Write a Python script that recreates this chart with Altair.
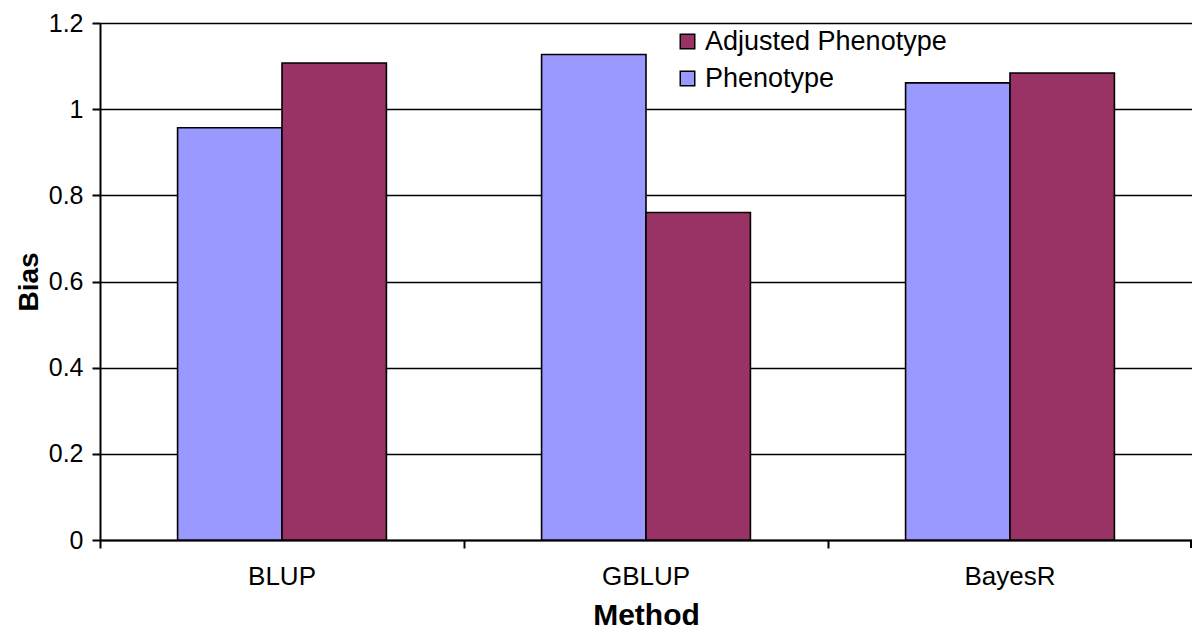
import altair as alt
import pandas as pd

methods = ["BLUP", "GBLUP", "BayesR"]
series = ["Phenotype", "Adjusted Phenotype"]
phenotype = [0.957, 1.127, 1.061]
adjusted = [1.107, 0.760, 1.084]
y_ticks = [0, 0.2, 0.4, 0.6, 0.8, 1.0, 1.2]

rows = []
for m, p, a in zip(methods, phenotype, adjusted):
    rows.append({"Method": m, "Series": "Phenotype", "Bias": p})
    rows.append({"Method": m, "Series": "Adjusted Phenotype", "Bias": a})
df = pd.DataFrame(rows)

FONT = "Liberation Sans"
W, H = 1092, 517

bars = alt.Chart(df).mark_bar(stroke="black", strokeWidth=1.6).encode(
    x=alt.X("Method:N", sort=methods,
            scale=alt.Scale(paddingInner=0, paddingOuter=0),
            axis=alt.Axis(title="Method", labelAngle=0, bandPosition=0,
                          tickSize=8, tickColor="black", tickWidth=2,
                          domainColor="black", domainWidth=2,
                          labelFont=FONT, labelFontSize=26, labelColor="black",
                          labelPadding=15,
                          titleFont=FONT, titleFontSize=30, titleFontWeight="bold",
                          titleColor="black", titlePadding=11, grid=False)),
    xOffset=alt.XOffset("Series:N", sort=series,
                        scale=alt.Scale(paddingInner=0, paddingOuter=0.743)),
    y=alt.Y("Bias:Q", scale=alt.Scale(domain=[0, 1.2], nice=False),
            axis=alt.Axis(title="Bias", values=y_ticks, format="~g",
                          tickSize=8, tickColor="black", tickWidth=2,
                          domainColor="black", domainWidth=2,
                          grid=True, gridColor="black", gridWidth=1.5,
                          labelFont=FONT, labelFontSize=25, labelColor="black",
                          labelPadding=9,
                          titleFont=FONT, titleFontSize=28, titleFontWeight="bold",
                          titleColor="black", titlePadding=5)),
    color=alt.Color("Series:N",
                    scale=alt.Scale(domain=["Adjusted Phenotype", "Phenotype"],
                                    range=["#993366", "#9999FF"]),
                    legend=alt.Legend(title=None, orient="none", legendX=574, legendY=5,
                                      symbolType="square", symbolSize=210,
                                      symbolStrokeColor="black", symbolStrokeWidth=1.5,
                                      labelFont=FONT, labelFontSize=27, labelColor="black",
                                      labelOffset=4, labelLimit=400, rowPadding=9,
                                      symbolOpacity=1)),
)

end_tick = alt.Chart(pd.DataFrame({"v": [0]})).mark_rule(color="black", strokeWidth=2).encode(
    x=alt.value(W - 1), y=alt.value(H), y2=alt.value(H + 8)
)

chart = alt.layer(bars, end_tick).properties(
    width=W, height=H,
    autosize=alt.AutoSizeParams(type="none"),
    padding={"left": 92, "top": 15, "right": 0, "bottom": 89},
).configure_view(stroke=None).configure(background="white")

chart.save("out.html", embed_options={"renderer": "svg", "actions": False})
